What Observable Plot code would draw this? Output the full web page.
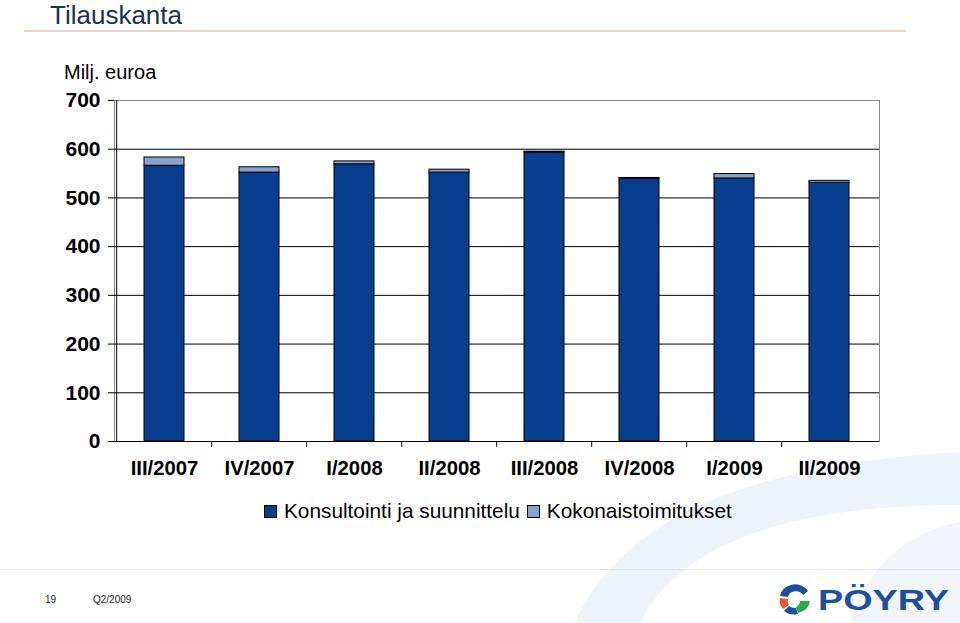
<!DOCTYPE html>
<html>
<head>
<meta charset="utf-8">
<script src="https://cdn.jsdelivr.net/npm/d3@7"></script>
<script src="https://cdn.jsdelivr.net/npm/@observablehq/plot@0.6"></script>
<style>
  html, body { margin: 0; padding: 0; background: #fff; }
  #wrap { position: relative; width: 960px; height: 623px; overflow: hidden; font-family: "Liberation Sans", Arial, sans-serif; }
  #bg { position: absolute; left: 0; top: 0; }
  #chart { position: absolute; left: 0; top: 0; }
  .title { position: absolute; left: 50px; top: 0px; font-size: 26px; line-height: 30px; color: #1a2e60; white-space: nowrap; }
  .rule { position: absolute; left: 24px; top: 30px; width: 882px; height: 2px; background: #ead6c8; }
  .unit { position: absolute; left: 64px; top: 61px; font-size: 20px; color: #000; white-space: nowrap; }
  .legend { position: absolute; left: 264px; top: 499px; font-size: 20.8px; color: #000; display: flex; align-items: center; white-space: nowrap; }
  .legend .sw { display: inline-block; width: 11px; height: 11px; border: 1px solid #000; margin-right: 7px; }
  .legend .item { display: flex; align-items: center; margin-right: 7px; }
  .footline { position: absolute; left: 0; top: 569px; width: 960px; height: 1px; background: #e2e6ea; }
  .page { position: absolute; left: 45px; top: 594px; font-size: 10px; color: #222; }
  .quarter { position: absolute; left: 93px; top: 594px; font-size: 10px; color: #222; }
  .logo { position: absolute; left: 818px; top: 583px; font-size: 30px; font-weight: bold; color: #1d4f9c; transform: scaleX(1.26); transform-origin: left top; font-family: "Liberation Sans", Arial, sans-serif; }
</style>
</head>
<body>
<div id="wrap">
  <svg id="bg" width="960" height="623">
    <path d="M575,623 Q640,470 960,452 L960,505 Q700,505 640,623 Z" fill="#eef2f9"/>
    <path d="M850,623 Q875,540 960,522 L960,623 Z" fill="#f1f4fa"/>
  </svg>
  <div id="chart"></div>
  <div class="title">Tilauskanta</div>
  <div class="rule"></div>
  <div class="unit">Milj. euroa</div>
  <div class="legend">
    <span class="item"><span class="sw" style="background:#073f8e"></span>Konsultointi ja suunnittelu</span>
    <span class="item"><span class="sw" style="background:#85a3cc"></span>Kokonaistoimitukset</span>
  </div>
  <div class="footline"></div>
  <div class="page">19</div>
  <div class="quarter">Q2/2009</div>
  <svg style="position:absolute;left:776px;top:584px" width="40" height="34" viewBox="0 0 40 34">
    <path d="M32,7 A15,13 0 0 0 4,12 L12,13 A8,7 0 0 1 27,11 Z" fill="#1d4f9c"/>
    <path d="M4,14 A15,13 0 0 0 7,25 L13,21 A8,7 0 0 1 12,15 Z" fill="#e8562a"/>
    <path d="M24,17 L34,17 A15,13 0 0 1 22,29 L20,23 A8,7 0 0 0 24,17 Z" fill="#2aa84a"/>
    <path d="M8,27 A15,13 0 0 0 22,30 L20,24 A8,7 0 0 1 13,22 Z" fill="#1d4f9c"/>
  </svg>
  <div class="logo">PÖYRY</div>
</div>
<script>
const categories = ["III/2007", "IV/2007", "I/2008", "II/2008", "III/2008", "IV/2008", "I/2009", "II/2009"];
const konsultointi = [566, 552, 569, 552, 593, 539, 540, 531];
const kokonais = [17, 11, 6, 6, 2, 2, 9, 4];
const seriesNames = ["Konsultointi ja suunnittelu", "Kokonaistoimitukset"];
const yTicks = [0, 100, 200, 300, 400, 500, 600, 700];

const data = [];
categories.forEach((c, i) => {
  data.push({cat: c, series: seriesNames[0], value: konsultointi[i]});
  data.push({cat: c, series: seriesNames[1], value: kokonais[i]});
});

const W = 960, H = 623, mL = 114, mR = 81, mT = 100, mB = 182;
const step = (W - mL - mR) / categories.length;
const tickData = categories.slice(1);

const chart = Plot.plot({
  width: W,
  height: H,
  marginTop: mT,
  marginBottom: mB,
  marginLeft: mL,
  marginRight: mR,
  style: {background: "transparent", fontFamily: "'Liberation Sans', Arial, sans-serif"},
  x: {domain: categories, paddingInner: 0.58, paddingOuter: 0.29, label: null},
  y: {domain: [0, 700], label: null},
  color: {domain: seriesNames, range: ["#073f8e", "#85a3cc"]},
  marks: [
    Plot.frame({stroke: "#8a8a8a"}),
    Plot.ruleY(yTicks.filter(d => d > 0 && d < 700), {stroke: "#000", strokeWidth: 1}),
    Plot.barY(data, {x: "cat", y: "value", fill: "series", stroke: "#000", strokeWidth: 1}),
    Plot.axisY({ticks: yTicks, tickSize: 6, tickPadding: 8, fontSize: 21, fontWeight: "bold", tickFormat: d => String(d), stroke: "#000"}),
    Plot.axisX({tickSize: 0, tickPadding: 19, fontSize: 20.3, fontWeight: "bold"}),
    Plot.ruleY([0], {stroke: "#000", strokeWidth: 1}),
    Plot.ruleX([categories[0]], {x: d => d, y1: 0, y2: 700, dx: -step / 2, stroke: "#000"}),
    Plot.ruleX(tickData, {x: d => d, y1: 0, y2: -12, dx: -step / 2, stroke: "#000"})
  ]
});
document.getElementById("chart").appendChild(chart);
</script>
</body>
</html>
